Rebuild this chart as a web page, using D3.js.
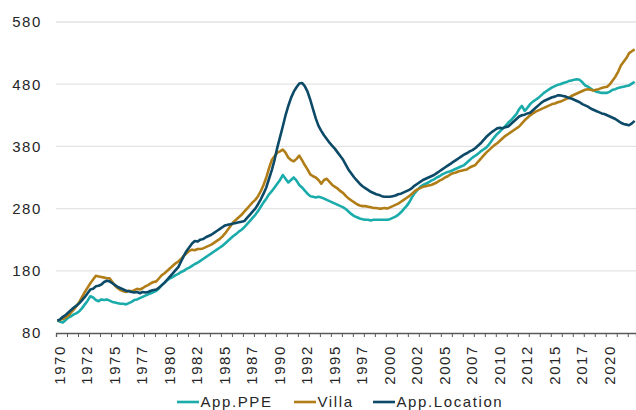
<!DOCTYPE html>
<html>
<head>
<meta charset="utf-8">
<script src="https://cdn.jsdelivr.net/npm/d3@7"></script>
<style>
  html, body { margin: 0; padding: 0; background: #fff; }
  svg text { font-family: "Liberation Sans", Arial, sans-serif; }
</style>
</head>
<body>
<svg id="chart" width="636" height="410"></svg>
<script>
// ---- DATA (quarterly, 1970Q1 .. 2022Q3) ----
const startYear = 1970;
const seriesNames = ["App.PPE", "Villa", "App.Location"];
const seriesColors = ["#1aabab", "#b07d17", "#0c4a68"];

const appPPE = [
  100, 98, 97, 101,   105, 107, 110, 112,   115, 120, 126, 132,   139, 137, 133, 131,
  134, 133, 134, 132, 130, 129, 128, 127,   127, 126, 128, 130,   133, 134, 136, 138,
  140, 142, 144, 146, 148, 152, 157, 161,   165, 168, 170, 173,   175, 178, 180, 183,
  185, 188, 191, 193, 196, 199, 202, 205,   208, 211, 214, 217,   220, 224, 228, 232,
  236, 239, 243, 246, 250, 255, 260, 265,   270, 276, 283, 290,   296, 303, 308, 314,
  320, 326, 334, 328, 322, 326, 330, 325,   318, 314, 309, 304,   300, 299, 298, 299,
  298, 296, 294, 292, 290, 288, 286, 284,   282, 279, 275, 271,   268, 266, 264, 263,
  262, 262, 261, 262, 262, 262, 262, 262,   262, 263, 265, 267,   270, 274, 279, 284,
  290, 298, 305, 310, 315, 318, 320, 322,   325, 327, 330, 332,   335, 337, 339, 340,
  342, 344, 346, 348, 350, 354, 358, 362,   365, 368, 372, 375,   378, 383, 389, 395,
  400, 404, 409, 413, 418, 422, 427, 432,   440, 445, 437, 442,   448, 452, 455, 458,
  462, 466, 469, 472, 475, 477, 479, 480,   482, 483, 485, 486,   487, 488, 487, 483,
  478, 476, 473, 470, 468, 467, 466, 466,   466, 468, 471, 472,   474, 475, 476, 477,
  478, 481, 484
];
const villa = [
  100, 101, 103, 105, 108, 113, 118, 124,   130, 138, 146, 153,   160, 166, 172, 171,
  170, 169, 168, 168, 162, 156, 152, 149,   147, 146, 148, 147,   149, 151, 150, 152,
  155, 157, 160, 162, 163, 168, 173, 176,   180, 184, 188, 192,   195, 199, 204, 208,
  212, 214, 213, 215, 215, 216, 218, 220,   222, 225, 228, 231,   235, 240, 246, 252,
  258, 262, 266, 270, 275, 280, 285, 290,   294, 300, 308, 318,   330, 345, 358, 364,
  370, 372, 375, 370, 362, 358, 356, 360,   365, 358, 350, 343,   335, 332, 330, 326,
  320, 326, 328, 323, 318, 315, 312, 308,   305, 300, 296, 293,   290, 287, 285, 284,
  284, 283, 282, 281, 281, 280, 280, 281,   280, 282, 284, 286,   288, 291, 294, 297,
  300, 304, 308, 311, 313, 315, 316, 317,   318, 320, 322, 325,   327, 330, 332, 335,
  337, 338, 340, 341, 342, 343, 346, 348,   350, 355, 360, 365,   370, 374, 378, 382,
  385, 389, 393, 397, 400, 403, 406, 409,   412, 417, 422, 426,   430, 433, 436, 438,
  440, 442, 444, 446, 448, 449, 451, 452,   454, 456, 458, 461,   463, 465, 467, 469,
  471, 472, 471, 470, 471, 472, 474, 475,   476, 480, 486, 492,   500, 510, 516, 522,
  530, 533, 536
];
const appLocation = [
  100, 102, 106, 109, 113, 117, 121, 124,   128, 133, 138, 144,   150, 151, 155, 156,
  158, 162, 164, 163, 160, 157, 154, 152,   150, 148, 147, 146,   145, 146, 144, 146,
  145, 146, 148, 149, 150, 153, 157, 161,   166, 171, 176, 181,   186, 195, 204, 212,
  218, 224, 228, 227, 230, 231, 234, 236,   238, 241, 244, 247,   250, 253, 254, 255,
  256, 257, 258, 259, 260, 265, 270, 275,   280, 287, 295, 304,   314, 328, 342, 358,
  378, 395, 412, 430, 445, 458, 468, 475,   481, 482, 477, 468,   455, 440, 425, 413,
  405, 398, 392, 386, 381, 376, 370, 364,   358, 350, 342, 336,   330, 325, 320, 316,
  313, 310, 307, 305, 303, 302, 300, 299,   299, 299, 300, 301,   303, 304, 306, 308,
  310, 313, 317, 320, 323, 326, 328, 330,   332, 334, 337, 340,   343, 346, 349, 352,
  355, 358, 361, 364, 367, 369, 372, 374,   377, 381, 385, 390,   395, 399, 403, 406,
  409, 410, 409, 411, 412, 416, 420, 424,   428, 430, 431, 433,   434, 438, 442, 446,
  450, 453, 455, 457, 459, 460, 462, 462,   461, 460, 458, 457,   455, 453, 451, 448,
  446, 444, 441, 439, 437, 435, 433, 432,   430, 428, 426, 424,   421, 418, 416, 415,
  414, 417, 421
];
const yTicks = [80, 180, 280, 380, 480, 580];
const xTickLabels = ["1970","1972","1975","1977","1980","1982","1985","1987","1990","1992",
  "1995","1997","2000","2002","2005","2007","2010","2012","2015","2017","2020"];
const labelEvery = 10;   // one label every 10 quarters
const tickEvery = 4;     // one tick mark every 4 quarters

// ---- CHART ----
const N = appPPE.length;
const categories = d3.range(N).map(i => (startYear + Math.floor(i / 4)) + "Q" + (i % 4 + 1));
const svg = d3.select("#chart");
const plotLeft = 56, plotRight = 636, plotTop = 22, plotBottom = 333;

const x = d3.scaleLinear().domain([0, N]).range([plotLeft, plotRight]);
const y = d3.scaleLinear().domain([80, 580]).range([plotBottom, plotTop]);

// gridlines
svg.append("g")
  .selectAll("line")
  .data(yTicks.filter(v => v !== 80))
  .join("line")
  .attr("x1", plotLeft).attr("x2", plotRight)
  .attr("y1", d => y(d)).attr("y2", d => y(d))
  .attr("stroke", "#e3e3e3").attr("stroke-width", 1.3);

// y labels
const yAxis = svg.append("g").attr("transform", `translate(${plotLeft},0)`)
  .call(d3.axisLeft(y).tickValues(yTicks).tickSize(0).tickPadding(14).tickFormat(d3.format("d")));
yAxis.select(".domain").remove();
yAxis.selectAll("text")
  .attr("fill", "#262626").attr("font-size", 15).attr("letter-spacing", "1.6px")
  .style("font-family", "'Liberation Sans', Arial, sans-serif");

// x tick marks
const xAxisTicks = svg.append("g").attr("transform", `translate(0,${plotBottom})`)
  .call(d3.axisBottom(x).tickValues(d3.range(0, N + 1, tickEvery)).tickFormat("").tickSizeOuter(0).tickSize(4));
xAxisTicks.select(".domain").attr("stroke", "#595959").attr("stroke-width", 1.3);
xAxisTicks.selectAll(".tick line").attr("stroke", "#595959").attr("stroke-width", 1);

// x labels
const labelIdx = xTickLabels.map((_, k) => k * labelEvery + 0.5);
const xAxisLabels = svg.append("g").attr("transform", `translate(1.5,${plotBottom})`)
  .call(d3.axisBottom(x).tickValues(labelIdx).tickSize(0)
    .tickFormat((d, k) => xTickLabels[k]));
xAxisLabels.select(".domain").remove();
xAxisLabels.selectAll("text")
  .attr("fill", "#262626").attr("font-size", 15).attr("letter-spacing", "1.6px")
  .style("font-family", "'Liberation Sans', Arial, sans-serif")
  .attr("transform", "rotate(-90)")
  .attr("text-anchor", "end")
  .attr("x", -12).attr("y", 0).attr("dy", "0.36em");

// lines
const seriesData = [appPPE, villa, appLocation];
const line = d3.line().x((d, i) => x(i + 0.5)).y(d => y(d));
svg.append("g")
  .selectAll("path")
  .data(seriesData)
  .join("path")
  .attr("d", d => line(d))
  .attr("fill", "none")
  .attr("stroke", (d, i) => seriesColors[i])
  .attr("stroke-width", 2.6)
  .attr("stroke-linejoin", "round");

// legend
const legendX = [177, 294, 373];
const lg = svg.append("g")
  .selectAll("g")
  .data(seriesNames)
  .join("g")
  .attr("transform", (d, i) => `translate(${legendX[i]},402)`);
lg.append("line").attr("x1", 0).attr("x2", 22).attr("y1", 0).attr("y2", 0)
  .attr("stroke", (d, i) => seriesColors[i]).attr("stroke-width", 2.6);
lg.append("text").attr("x", 23.5).attr("y", 0).attr("dy", "0.36em")
  .attr("font-size", 15).attr("letter-spacing", "1.6px").attr("fill", "#262626")
  .text(d => d);
</script>
</body>
</html>
